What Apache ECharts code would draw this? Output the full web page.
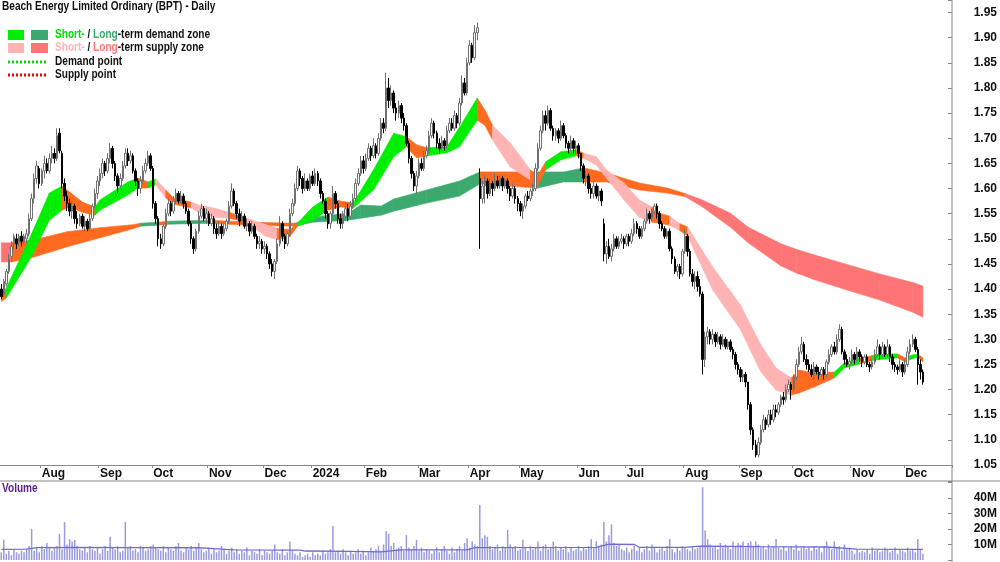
<!DOCTYPE html>
<html>
<head>
<meta charset="utf-8">
<title>Beach Energy (BPT) - Daily</title>
<script src="https://cdn.jsdelivr.net/npm/echarts@6/dist/echarts.min.js"></script>
<style>
  html, body { margin: 0; padding: 0; background: #fff; }
  #chart { width: 1000px; height: 562px; }
</style>
</head>
<body>
<div id="chart"></div>
<script>
const FONT = "'Liberation Sans', Arial, sans-serif";

// trading calendar (ASX), weekdays minus public holidays
const firstDay = '2023-07-10';
const lastDay = '2024-12-11';
const holidays = ['2023-12-25', '2023-12-26', '2024-01-01', '2024-01-26',
  '2024-03-29', '2024-04-01', '2024-04-25', '2024-06-10'];
const padSlots = 11;

// daily bars in cents: [open, close, low, high]
const bars = [
  [140,138.5,138,141],[139,141.5,138.5,142],[141,143.5,140.5,144],[143.5,146,143,147],[146.5,148.5,145.5,149.5],
  [149,150.5,148,151],[150,149,148,151],[149,150.5,148.5,151],[150.5,149.5,148.5,151.5],[149.5,150.5,149,151],
  [150,151,149,152],[151,154,150.5,155],[154,158,153.5,159],[158,162,157,163],[162,164.5,161,165.5],
  [164,161,160,164.5],[161,163.5,160.5,164],[163.5,165,162,166.5],[165,163.5,163,166],[163.5,166,163,167],
  [166,167,165,168.5],[167,166,165,168],[166,170.5,165.5,172],[171,167.5,167,172],[167,161,160,167.5],
  [161,158.5,157.5,162],[158.5,157,155.5,159.5],[157,155.5,154.5,158],[155.5,156.5,154,157.5],[156.5,154,153,157],
  [154,153,152,155.5],[153,154.5,152.5,155],[154.5,152.5,152,155],[152.5,153.5,151.5,154.5],[153.5,152,151.5,154],
  [152,154,151.5,155],[154,156.5,153.5,157],[156.5,159,156,160],[159,161.5,158,162.5],[161.5,163,160.5,164],
  [163,165,162,166],[165,163.5,162.5,165.5],[163.5,166,163,167],[166,168,165,169],[168,165,164,168.5],
  [165,162.5,161.5,165.5],[162.5,160.5,159,163],[160.5,162,160,163],[162,164.5,161.5,165.5],[164.5,167,164,168],
  [167,165.5,164.5,168],[165.5,166.5,165,167.5],[166.5,163.5,163,167],[163.5,161.5,160.5,164],[161.5,160,158.5,162],
  [160,161.5,159,162.5],[161.5,163.5,161,164.5],[163.5,165,163,166],[165,166.5,164.5,167.5],[166.5,164,163.5,167],
  [164,157,156,164.5],[157,154,153,157.5],[154,150,148.5,154.5],[150,149,148,151],[149,152.5,148.5,153],
  [152.5,155,152,156],[155,157,154.5,158],[157,155.5,154.5,157.5],[155.5,157.5,155,158.5],[157.5,159,157,160],
  [159,157.5,157,159.5],[157.5,158.5,157,159.5],[158.5,157,156,159],[157,155.5,155,157.5],[155.5,153,152.5,156],
  [153,150,149,153.5],[150,148,147,150.5],[148,151.5,147.5,152],[151.5,154.5,151,155.5],[154.5,156,154,157],
  [156,154,153.5,156.5],[154,155,153,156],[155,153,152.5,155.5],[153,154,152.5,155],[154,152,151,154.5],
  [152,151,150,153],[151,152.5,150.5,153.5],[152.5,151,150,153],[151,152,150.5,153],[152,153.5,151.5,154],
  [153.5,156.5,153,157.5],[156.5,159.5,156,161],[159.5,157,156.5,160],[157,155,154,157.5],[155,153.5,152.5,156],
  [153.5,154.5,153,155.5],[154.5,152.5,152,155],[152.5,153,151.5,154],[153,151.5,150.5,153.5],[151.5,152.5,151,153.5],
  [152.5,150.5,150,153],[150.5,149,148,151],[149,149.5,148,150.5],[149.5,148,147,150],[148,148.5,147,149.5],
  [148.5,147,146,149],[147,145,144,147.5],[145,143.5,142.5,146],[143.5,145.5,142,146],[145.5,149,145,150],
  [149,153,148.5,154.5],[153,150.5,149.5,153.5],[150.5,149,148,151],[149,151,148.5,151.5],[151,155,150.5,156],
  [155,157,154.5,158],[157,160,156.5,161],[160,163.5,159.5,164.5],[163.5,162,160.5,164],[162,160,159,162.5],
  [160,161.5,159.5,163],[161.5,160,159.5,162],[160,162.5,159.5,163],[162.5,161,160.5,163.5],[161,163,160.5,164],
  [163,161.5,160.5,163.5],[161.5,159,158,162],[159,157.5,157,159.5],[157.5,155,154,158],[155,153,152,155.5],
  [153,155,152,155.5],[155,159,154.5,160.5],[159,157,156,159.5],[157,154,153,157.5],[154,153,152,155],
  [153,154.5,152,155.5],[154.5,156,153.5,157],[156,154.5,153.5,157],[154.5,156.5,154,157.5],[156.5,158,156,159],
  [158,161,157.5,162],[161,163,160.5,164],[163,165.5,162.5,166.5],[165.5,164,163,166.5],[164,166,163.5,167],
  [166,168,165.5,169],[168,166.5,165.5,168.5],[166.5,168.5,166,170],[168.5,167,166,169],[167,170,166.5,171],
  [170,173,169.5,174],[173,172,171,174],[172,180,171.5,183],[180,177.5,176,182],[177.5,179,176.5,180.5],
  [179,176,175,179.5],[176,175,173.5,177],[175,176.5,174,177.5],[176.5,174,173,177],[174,172.5,171.5,175],
  [172.5,169,168.5,173],[169,166,165,169.5],[166,163,162,166.5],[163,160.5,159.5,163.5],[160.5,162.5,159,163.5],
  [162.5,165,162,166],[165,164,163.5,166],[164,166.5,163.5,167.5],[166.5,167.5,166,168.5],[167.5,170.5,167,171.5],
  [170.5,173,170,174],[173,171,170,173.5],[171,169,168,171.5],[169,168,167,170],[168,169.5,167.5,170.5],
  [169.5,168.5,167.5,170],[168.5,171.5,168,172.5],[171.5,173,171,174],[173,172,171.5,174],[172,174.5,171.5,175.5],
  [174.5,173,172,175],[173,177,172.5,178],[177,181,176.5,182.5],[181,179,178.5,182],[179,185,178.5,186],
  [185,188.5,184.5,189.5],[188.5,186,185,189],[186,191,185.5,192.5],[191,192,189.5,193],[162,158,148,164],
  [158,160.5,157,161.5],[160.5,161.5,157,162.5],[161.5,159,158,162],[159,161,158.5,162],[161,160,158.5,161.5],
  [160,161.5,159.5,163],[161.5,160.5,160,162.5],[160.5,162,160,162.5],[162,160.5,159.5,162.5],[160.5,161.5,160,162],
  [161.5,160,159,162],[160,158.5,157.5,160.5],[158.5,160,158,161],[160,158,157,160.5],[158,157,155.5,158.5],
  [157,155.5,154.5,157.5],[155.5,156.5,154,157],[156.5,158.5,156,159],[158.5,158,157.5,159.5],[158,159.5,157.5,160],
  [159.5,160,158.5,161],[160,164,159.5,165],[164,168,163.5,169],[168,171.5,167.5,172.5],[171.5,174.5,171,175.5],
  [174.5,173,171.5,175.5],[173,175.5,172.5,176.5],[175.5,172,171.5,176],[172,170.5,169.5,172.5],[170.5,171.5,169.5,172],
  [171.5,170,169,172],[170,172.5,169.5,173.5],[172.5,170.5,170,173],[170.5,169,168,171],[169,168,167,169.5],
  [168,169.5,167.5,170.5],[169.5,168,167,170],[168,168.5,167,169.5],[168.5,167,166,169],[167,164.5,163.5,167],
  [164.5,162,161,165],[162,162.5,160.5,163.5],[162.5,160,159,163],[160,159,158,161],[159,160.5,158,161.5],
  [160.5,158.5,158,161],[158.5,159.5,157.5,160.5],[159.5,157.5,156.5,160],[153,147,145.5,154],[147,148.5,145,149.5],
  [148.5,146.5,146,150],[146.5,148,145.5,149],[148,150,147.5,151],[150,148.5,148,150.5],[148.5,149.5,148,150.5],
  [149.5,150,149,151],[150,149,148,150.5],[149,150.5,148.5,151],[150.5,149.5,148.5,151],[149.5,151,149,152],
  [151,153,150.5,154],[153,152,151,153.5],[152,150.5,150,152.5],[150.5,152,150,152.5],[152,153.5,151.5,154],
  [153.5,155,153,156],[155,154,153,155.5],[154,155.5,153.5,156],[155.5,156.5,155,157],[156.5,155,154,157],
  [155,153,152,155.5],[153,152,151.5,153.5],[152,150.5,150,152.5],[150.5,151.5,150,152],[151.5,148,147.5,152],
  [148,146,145,148.5],[146,143.5,143,146.5],[143.5,144.5,142.5,145],[144.5,143,142,145],[143,147.5,142.5,148],
  [147.5,150.5,147,152],[150.5,147.5,146.5,151],[147.5,143,142.5,148],[143,141.5,140.5,144],[141.5,142.5,140,143.5],
  [142.5,140.5,139.5,143.5],[140.5,139,138.5,142],[139,126,123,139.5],[126,130.5,124.5,131.5],[130.5,131.5,129,132.5],
  [131.5,130,129,132],[130,131,129,132],[131,129.5,128.5,131.5],[129.5,130.5,129,131.5],[130.5,129,128,131],
  [129,130,128.5,131],[130,128.5,128,130.5],[128.5,129.5,128,130],[129.5,128,127.5,130],[128,127,126,128.5],
  [127,125,124,127.5],[125,124,123,125.5],[124,122.5,121.5,124.5],[122.5,123,121.5,124],[123,121.5,120.5,123.5],
  [121.5,117,116,121.5],[117,112,111,117.5],[112,109,108,112.5],[109,107,106.5,110],[107,109.5,106.5,110.5],
  [109.5,112,109,113],[112,114,111.5,115],[114,113,112,114.5],[113,115,112.5,116],[115,114,113,116],
  [114,116,113.5,117],[116,115.5,114.5,117],[115.5,117,115,117.5],[117,118.5,116.5,119],[118.5,118,117,119.5],
  [118,120,117.5,121],[120,121,119.5,122],[121,120,118,121.5],[120,122.5,119.5,123],[122.5,125,122,126],
  [125,127.5,124.5,128.5],[127.5,129,127,130.5],[129,126,125.5,129.5],[126,125,124,127],[125,124,123.5,126],
  [124,123,122.5,125],[123,124.5,122,125.5],[124.5,123.5,123,125],[123.5,123,122,124.5],[123,124,122.5,124.5],
  [124,123,122,124.5],[123,125.5,122.5,126],[125.5,127,125,128],[127,128.5,126.5,129],[128.5,127.5,127,129.5],
  [127.5,130,127,131],[130,132,129.5,133],[132,127.5,127,132.5],[127.5,126,125,128],[126,125,124.5,127],
  [125,125.5,124,126.5],[125.5,127,125,128],[127,126,125,127.5],[126,127.5,125.5,128.5],[127.5,126.5,125.5,128],
  [126.5,125.5,124.5,127],[125.5,126.5,125,127],[126.5,125,124.5,127],[125,124.5,123.5,125.5],[124.5,125.5,124,126],
  [125.5,127,125,128],[127,128.5,126.5,130],[128.5,127,126,129],[127,128.5,126.5,129.5],[128.5,127,126.5,129],
  [127,128.5,126.5,130],[128.5,126.5,125.5,129],[126.5,125,124,127],[125,124.5,123.5,125.5],[124.5,124,123,125],
  [124,125,123.5,126],[125,123.5,122.5,125.5],[123.5,125,123,126],[125,127.5,124.5,128.5],[127.5,129,127,130],
  [129,130,128.5,131],[130,128,127.5,130.5],[128,125,121,128.5],[125,123.5,122,126],[123.5,121.5,121,124]
];

// daily volume, millions
const volumes = [
  5,13,4,6,3,7,5,4,6,5,  7,9,20,6,8,5,9,7,11,8,  6,8,9,17,7,24.5,10,13.5,12,13,
  9,7,6,8,5,9,7,6,8,4,  7,9,6,15,8,7,9,5,6,24.5,  8,9,6,7,5,9,8,6,7,9,
  10,8,7,6,9,5,8,7,6,9,  11,6,5,8,7,9,6,8,11,7,  5,6,8,4,7,5,6,9,7,4,
  6,8,5,7,4,6,5,8,3,6,  5,4,7,3,6,5,4,6,10,5,  4,7,3,5,12,6,4,3,5,2,
  3,4,2,5,3,4,3,6,4,5,  7,22,5,6,4,7,5,3,6,4,  5,7,4,6,3,5,8,6,7,9,
  6,10,18.5,17,9,11,7,8,9,6,  16,8,7,9,13,6,8,5,7,6,  4,6,8,5,7,9,6,4,8,5,
  7,9,6,11,14,8,12,10,9,35.5,  14,16,15,9,7,8,10,6,9,8,  19.5,10,8,9,6,7,13,8,6,9,
  7,8,12,6,9,10,7,8,12,9,  6,8,7,9,5,8,6,7,9,6,  8,7,9,13.5,8,12,9,10,24.5,12,
  16,23,11,9,10,7,6,8,5,7,  9,6,8,5,7,9,6,10,8,5,  7,8,6,9,13.5,7,5,8,6,9,
  8,7,6,9,7,8,9,47,19,13.5,  10,8,9,7,11,8,10,9,7,12,  9,11,10,12,8,11,12,9,12,10,
  8,9,7,10,8,9,13.5,8,7,9,  6,8,9,7,10,6,8,9,7,8,  6,9,7,8,5,9,12,8,7,12,
  8,9,6,10,7,8,6,4,7,5,  6,5,7,4,8,6,7,5,6,8,  7,5,6,8,4,7,6,5,8,6,
  7,5,13.5,7,4
];

// volume average line read at sample bars: [bar, millions]
const volAvg = [[0,6.8],[10,7.0],[14,8.0],[30,8.2],[52,8.0],[78,7.9],[82,7.5],[92,6.5],[118,6.4],[120,5.8],
  [138,5.6],[150,5.2],[158,6.5],[184,6.6],[187,8.0],[235,8.2],[240,10.3],[250,10.0],[252,8.2],[270,8.2],
  [276,9.0],[300,8.6],[326,8.4],[338,7.0],[364,6.9]];

// short-term zone edges at sample bars: [bar, top, bottom, zone of the stretch that follows]
const shortZone = [
  [0,138.5,137.5,'n'],[2,140.2,138.2,'d'],[12,151,146.5,'d'],[19,159.1,153.7,'d'],[24,160.5,155.7,'n'],
  [27,159.3,156.3,'n'],[32,157.3,155.3,'n'],[37,156.3,154.7,'d'],[39,157.7,155.7,'d'],[50,161.3,158.7,'d'],
  [54,162.1,160.1,'n'],[58,161.3,160.1,'d'],[61,161.9,160.7,'s'],[65,159.7,158.1,'n'],[68,158.1,156.9,'n'],
  [75,157.3,156.1,'s'],[78,156.7,155.3,'s'],[84,156.1,154.3,'s'],[90,155.3,154.1,'n'],[97,154.1,153.3,'s'],
  [104,152.9,150.6,'s'],[109,152.1,149.8,'n'],[114,151.8,150.4,'n'],[117,153.1,152.5,'d'],[123,156.3,153.7,'d'],
  [129,158.3,155.7,'n'],[134,157.5,156.3,'n'],[139,157.1,156.1,'d'],[147,163.7,159.7,'d'],[155,171.0,166.3,'d'],
  [160,170.3,168.3,'n'],[164,168.7,166.1,'n'],[168,168.1,166.5,'d'],[176,168.3,167.1,'d'],[181,172.2,168.3,'d'],
  [188,178.0,173.6,'n'],[191,175.6,172.6,'n'],[194,172.6,169.7,'s'],[201,169.1,164.3,'s'],[209,163.7,161.7,'n'],
  [212,162.7,160.7,'n'],[215,165.3,163.7,'d'],[221,167.3,165.7,'d'],[227,167.7,166.5,'n'],[230,167.0,166.0,'s'],
  [235,166.3,164.7,'s'],[239,163.7,162.1,'s'],[246,161.1,157.7,'s'],[252,157.7,154.3,'s'],[257,156.3,153.3,'n'],
  [260,155.1,153.1,'n'],[264,154.5,152.7,'s'],[268,153.0,151.6,'n'],[271,152.4,150.6,'s'],[281,144.4,139.8,'s'],
  [292,136.8,131.9,'s'],[300,128.9,123.5,'s'],[306,124.3,119.9,'s'],[312,122.3,118.9,'n'],[315,123.9,119.3,'n'],
  [321,123.3,120.5,'n'],[329,123.5,122.3,'d'],[333,125.3,124.3,'d'],[339,126.3,125.1,'n'],[342,126.5,125.5,'n'],
  [344,126.8,125.8,'d'],[349,127.1,126.1,'d'],[354,127.1,126.3,'n'],[357,126.3,125.5,'n'],[359,126.8,126.0,'d'],
  [362,127.1,126.5,'n'],[364,126.3,125.5,'n']
];

// long-term zone edges
const longZone = [
  [0,149.2,145.4,'s'],[4,149.2,145.4,'n'],[13,149.8,146.4,'n'],[26,151.4,148.4,'n'],[39,152.2,150.2,'n'],
  [52,152.8,152.0,'n'],[55,153.1,152.5,'d'],[62,153.3,152.7,'n'],[66,153.5,152.9,'d'],[82,153.7,153.1,'n'],
  [98,153.3,152.7,'n'],[116,153.1,152.5,'d'],[123,154.3,153.3,'d'],[137,155.1,153.7,'d'],[142,156.7,154.1,'d'],
  [150,156.5,154.7,'d'],[155,157.9,155.5,'d'],[168,159.7,157.1,'d'],[181,161.5,158.5,'d'],[189,163.3,160.9,'n'],
  [200,163.3,160.5,'n'],[212,163.3,160.1,'d'],[222,163.3,161.3,'d'],[230,164.1,161.3,'n'],[239,163.1,161.3,'n'],
  [252,161.1,159.7,'n'],[263,160.1,159.1,'n'],[270,159.0,158.4,'s'],[277,157.7,156.3,'s'],[288,155.1,152.3,'s'],
  [295,152.3,149.2,'s'],[308,149.0,144.6,'s'],[314,147.9,143.2,'s'],[321,146.8,141.9,'s'],[334,144.9,139.8,'s'],
  [347,143.0,137.8,'s'],[360,141.3,135.4,'s'],[364,140.6,134.4,'s']
];

const shortColors = { d: '#00ee00', s: '#ffb3b3', n: '#ff6a1f' };
const longColors = { d: '#3caa6e', s: '#ff7575', n: '#ff6a1f' };

// build the category list
function iso(d) { return d.toISOString().slice(0, 10); }
const days = [];
for (let d = new Date(firstDay + 'T00:00:00Z'); iso(d) <= lastDay; d.setUTCDate(d.getUTCDate() + 1)) {
  const wd = d.getUTCDay();
  if (wd === 0 || wd === 6) continue;
  if (holidays.includes(iso(d))) continue;
  days.push(iso(d));
}
const categories = days.slice();
for (let i = 0; i < padSlots; i++) categories.push('');

const monthNames = ['Jan', 'Feb', 'Mar', 'Apr', 'May', 'Jun', 'Jul', 'Aug', 'Sep', 'Oct', 'Nov', 'Dec'];
function isMonthStart(idx) {
  const v = categories[idx];
  if (!v || idx === 0) return false;
  return v.slice(5, 7) !== categories[idx - 1].slice(5, 7);
}
function monthLabel(v) {
  if (!v) return '';
  const m = +v.slice(5, 7);
  return m === 1 ? v.slice(0, 4) : monthNames[m - 1];
}

function zoneSeries(samples, colors, z) {
  const data = [];
  const palette = [];
  for (let k = 0; k < samples.length - 1; k++) {
    const a = samples[k], b = samples[k + 1];
    let ci = palette.indexOf(colors[a[3]]);
    if (ci < 0) { palette.push(colors[a[3]]); ci = palette.length - 1; }
    data.push([a[0], a[1] / 100, a[2] / 100, b[0], b[1] / 100, b[2] / 100, ci]);
  }
  return {
    type: 'custom',
    xAxisIndex: 0,
    yAxisIndex: 0,
    z: z,
    clip: true,
    silent: true,
    encode: { x: [0, 3], y: [1, 2, 4, 5] },
    data: data,
    renderItem: function (params, api) {
      const p1 = api.coord([api.value(0), api.value(1)]);
      const p2 = api.coord([api.value(3), api.value(4)]);
      const p3 = api.coord([api.value(3), api.value(5)]);
      const p4 = api.coord([api.value(0), api.value(2)]);
      const c = palette[api.value(6)];
      return {
        type: 'polygon',
        shape: { points: [p1, p2, p3, p4] },
        style: { fill: c, stroke: c, lineWidth: 0.6 }
      };
    }
  };
}

const labelStyle = { fontFamily: FONT, fontWeight: 'bold', fontSize: 12, color: '#111' };
const TXT = 'bold 12px ' + FONT;
const squeeze = 0.84; // the original lettering is condensed

const myChart = echarts.init(document.getElementById('chart'));

let options = {
  animation: false,
  backgroundColor: '#fff',
  grid: [
    { left: 0, right: 48, top: 0, height: 465 },
    { left: 0, right: 48, top: 481, height: 79 }
  ],
  xAxis: [
    {
      type: 'category', gridIndex: 0, data: categories, boundaryGap: true,
      axisLine: { show: true, lineStyle: { color: '#888', width: 1 } },
      axisTick: { show: true, interval: isMonthStart, length: 3, lineStyle: { color: '#888' } },
      axisLabel: Object.assign({ interval: isMonthStart, align: 'left', margin: 3, formatter: monthLabel }, labelStyle),
      splitLine: { show: false }
    },
    {
      type: 'category', gridIndex: 1, data: categories, boundaryGap: true,
      axisLine: { show: false }, axisTick: { show: false }, axisLabel: { show: false }, splitLine: { show: false }
    }
  ],
  yAxis: [
    {
      type: 'value', gridIndex: 0, position: 'right', min: 1.05, max: 1.975, interval: 0.05,
      axisLine: { show: false }, splitLine: { show: false },
      axisTick: { show: true, inside: true, length: 4, lineStyle: { color: '#888' } },
      axisLabel: Object.assign({
        margin: 45, align: 'right',
        formatter: function (v) {
          return Math.abs(v * 20 - Math.round(v * 20)) < 1e-6 ? v.toFixed(2) : '';
        }
      }, labelStyle)
    },
    {
      type: 'value', gridIndex: 1, position: 'right', min: 0, max: 51, interval: 10,
      axisLine: { show: false }, splitLine: { show: false },
      axisTick: { show: true, inside: true, length: 4, lineStyle: { color: '#888' } },
      axisLabel: Object.assign({
        margin: 45, align: 'right',
        formatter: function (v) { return v > 0 && v < 50 ? v + 'M' : ''; }
      }, labelStyle)
    }
  ],
  series: [
    zoneSeries(longZone, longColors, 1),
    zoneSeries(shortZone, shortColors, 2),
    {
      type: 'candlestick',
      xAxisIndex: 0,
      yAxisIndex: 0,
      z: 3,
      barWidth: 2,
      data: bars.map(b => b.map(v => v / 100)),
      itemStyle: {
        color: '#ffffff',
        color0: '#000000',
        borderColor: '#707070',
        borderColor0: '#000000',
        borderWidth: 1
      }
    },
    {
      type: 'bar',
      xAxisIndex: 1,
      yAxisIndex: 1,
      barWidth: 1.5,
      data: volumes,
      itemStyle: { color: '#9a9ade' }
    },
    {
      type: 'line',
      xAxisIndex: 1,
      yAxisIndex: 1,
      data: volAvg,
      symbol: 'none',
      lineStyle: { color: '#6c6cd2', width: 1.3 },
      z: 4
    }
  ],
  graphic: [
    { type: 'line', silent: true, shape: { x1: 952, y1: 0, x2: 952, y2: 562 }, style: { stroke: '#888', lineWidth: 1 } },
    { type: 'line', silent: true, shape: { x1: 0, y1: 481, x2: 1000, y2: 481 }, style: { stroke: '#888', lineWidth: 1 } },
    { type: 'text', x: 2, y: 1, scaleX: squeeze, style: { text: 'Beach Energy Limited Ordinary (BPT) - Daily', font: TXT, fill: '#111' } },
    { type: 'text', x: 2, y: 483, scaleX: squeeze, style: { text: 'Volume', font: TXT, fill: '#5a1f8c' } },
    { type: 'rect', shape: { x: 8, y: 30, width: 16, height: 10 }, style: { fill: shortColors.d } },
    { type: 'rect', shape: { x: 31, y: 30, width: 17, height: 10 }, style: { fill: longColors.d } },
    { type: 'rect', shape: { x: 8, y: 43, width: 16, height: 10 }, style: { fill: shortColors.s } },
    { type: 'rect', shape: { x: 31, y: 43, width: 17, height: 10 }, style: { fill: longColors.s } },
    { type: 'line', shape: { x1: 8, y1: 62, x2: 48, y2: 62 }, style: { stroke: '#00dd00', lineWidth: 3, lineDash: [2, 2] } },
    { type: 'line', shape: { x1: 8, y1: 75, x2: 48, y2: 75 }, style: { stroke: '#ee0000', lineWidth: 3, lineDash: [2, 2] } },
    {
      type: 'text', x: 55, y: 29, scaleX: squeeze,
      style: {
        text: '{g|Short-}{k| / }{dg|Long}{k|-term demand zone}',
        rich: {
          g: { fill: '#00dd00', font: TXT },
          dg: { fill: longColors.d, font: TXT },
          k: { fill: '#111', font: TXT }
        }
      }
    },
    {
      type: 'text', x: 55, y: 42, scaleX: squeeze,
      style: {
        text: '{p|Short-}{k| / }{r|Long}{k|-term supply zone}',
        rich: {
          p: { fill: shortColors.s, font: TXT },
          r: { fill: longColors.s, font: TXT },
          k: { fill: '#111', font: TXT }
        }
      }
    },
    { type: 'text', x: 55, y: 56, scaleX: squeeze, style: { text: 'Demand point', font: TXT, fill: '#111' } },
    { type: 'text', x: 55, y: 69, scaleX: squeeze, style: { text: 'Supply point', font: TXT, fill: '#111' } }
  ]
};

myChart.setOption(options);
</script>
</body>
</html>
